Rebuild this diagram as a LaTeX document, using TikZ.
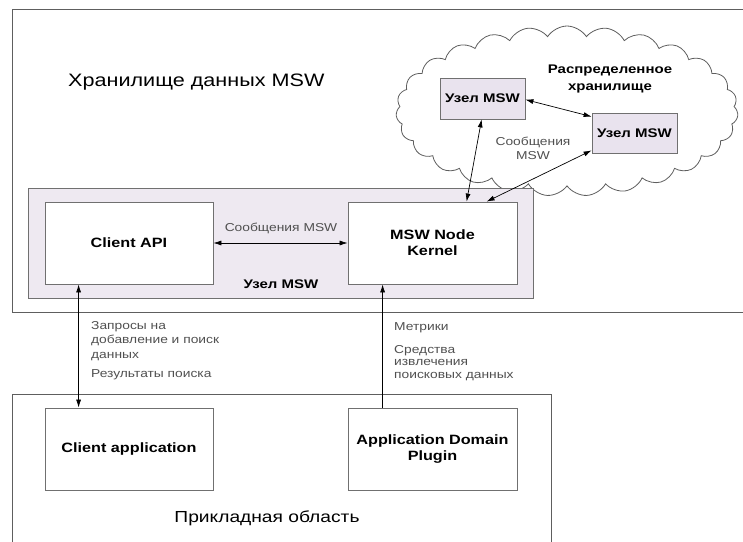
\documentclass[tikz,border=0pt]{standalone}
\usepackage{fontspec}
\setmainfont[FakeStretch=1.2]{Liberation Sans}
\usetikzlibrary{shapes.symbols,arrows.meta,calc}
\definecolor{frameline}{HTML}{5E5E5E}
\definecolor{boxline}{HTML}{707070}
\definecolor{nodefill}{HTML}{EEE9F1}
\definecolor{smallfill}{HTML}{E9E3EE}
\definecolor{labelgray}{HTML}{505050}
\begin{document}
\begin{tikzpicture}[x=1pt,y=-1pt,
  frame/.style={draw=frameline,line width=0.8pt},
  compbox/.style={draw=boxline,line width=0.8pt,fill=white,inner sep=0pt,
    align=center,font=\fontsize{13.5}{16}\selectfont\bfseries},
  peerbox/.style={draw=boxline,line width=0.8pt,fill=smallfill,inner sep=0pt,
    minimum width=85pt,align=center,font=\fontsize{12.5}{15}\selectfont\bfseries},
  msglabel/.style={text=labelgray,inner sep=0pt,font=\fontsize{11.5}{14}\selectfont},
  link/.style={draw=black,line width=0.7pt,{Latex[length=8pt,width=5pt]}-{Latex[length=8pt,width=5pt]}},
  uplink/.style={draw=black,line width=0.7pt,-{Latex[length=8pt,width=5pt]}}]
\useasboundingbox (0,0) rectangle (743,541);

% storage area (open on the right) and application area (open at the bottom)
\draw[frame] (750,9) -- (12,9) -- (12,312) -- (750,312);
\draw[frame] (12,548) -- (12,394) -- (551,394) -- (551,548);
\node[anchor=west,inner sep=0pt,font=\fontsize{18}{22}\selectfont] (title) at (68,82) {Хранилище данных MSW};
\node[inner sep=0pt,font=\fontsize{16}{20}\selectfont] (apptitle) at (267,518) {Прикладная область};

% distributed storage cloud
\node[cloud,draw=frameline,line width=0.8pt,cloud puffs=27,cloud puff arc=115,
  cloud ignores aspect,minimum width=342pt,minimum height=170pt,inner sep=0pt] (cloud) at (567,111) {};
\node[align=center,inner sep=0pt,font=\fontsize{12.5}{17}\selectfont\bfseries] (cloudlbl) at (610,79)
  {Распределенное\\хранилище};
\node[peerbox,minimum height=41pt] (u1) at (482.5,98.5) {Узел MSW};
\node[peerbox,minimum height=40pt] (u2) at (634.5,133) {Узел MSW};

% local MSW node
\node[draw=boxline,line width=0.8pt,fill=nodefill,minimum width=505pt,minimum height=110pt,inner sep=0pt]
  (local) at (280.5,243) {};
\node[compbox,minimum width=168pt,minimum height=82pt] (api) at (129,243) {Client API};
\node[compbox,minimum width=169pt,minimum height=82pt] (kern) at (432.5,243) {MSW Node\\Kernel};
\node[inner sep=0pt,font=\fontsize{12.5}{15}\selectfont\bfseries] (locallbl) at (281,284) {Узел MSW};

% application domain components
\node[compbox,minimum width=168pt,minimum height=82pt] (capp) at (129,449) {Client application};
\node[compbox,minimum width=169pt,minimum height=82pt] (plug) at (432.5,449) {Application Domain\\Plugin};

% message exchange
\draw[link] (api.east) -- (kern.west);
\node[msglabel] (msg1) at (281,228) {Сообщения MSW};
\draw[link] ([xshift=42pt]u1.south west) -- ([xshift=119pt]kern.north west);
\draw[link] ([yshift=-22pt]u1.north east) -- ([yshift=-4pt]u2.north west);
\draw[link] ([yshift=3pt]u2.south west) -- ([xshift=139pt]kern.north west);
\node[msglabel,align=center] (msg2) at (533,148) {Сообщения\\MSW};

% client requests and plugin data
\draw[link] ([xshift=34pt]api.south west) -- ([xshift=34pt]capp.north west);
\draw[uplink] ([xshift=35pt]plug.north west) -- ([xshift=35pt]kern.south west);
\node[msglabel,anchor=north west,align=left,font=\fontsize{11.5}{14.5}\selectfont] (req) at (91,321)
  {Запросы на\\добавление и поиск\\данных};
\node[msglabel,anchor=west] (res) at (91,375) {Результаты поиска};
\node[msglabel,anchor=west] (metr) at (394,328) {Метрики};
\node[msglabel,anchor=north west,align=left,font=\fontsize{11.5}{12.5}\selectfont] (tools) at (394,345)
  {Средства\\извлечения\\поисковых данных};
\end{tikzpicture}
\end{document}
